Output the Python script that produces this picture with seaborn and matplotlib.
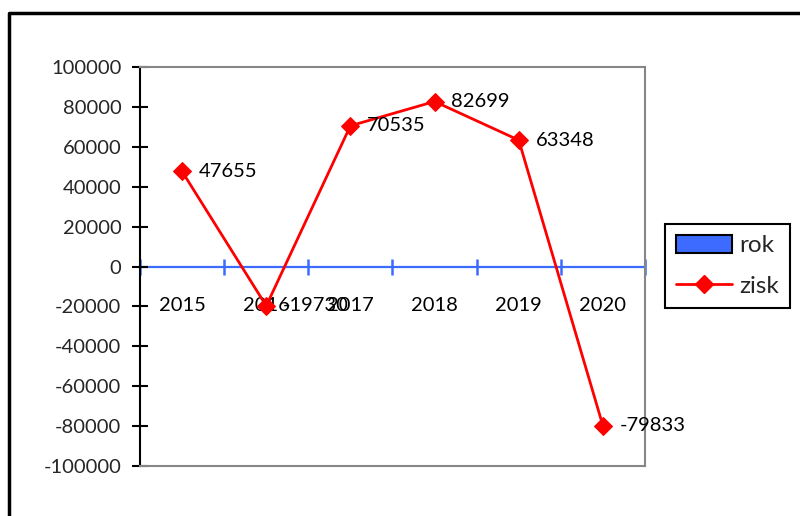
import numpy as np
import matplotlib
matplotlib.use("Agg")
import matplotlib.pyplot as plt
import seaborn as sns
from matplotlib.patches import Patch
from matplotlib.lines import Line2D
from matplotlib.ticker import NullFormatter

# data
rok = ["2015", "2016", "2017", "2018", "2019", "2020"]
zisk = [47655, -19730, 70535, 82699, 63348, -79833]
y_ticks = [-100000, -80000, -60000, -40000, -20000, 0, 20000, 40000, 60000, 80000, 100000]

blue = "#3d6bff"
red = "#ff0000"
gray = "#868686"

sns.set_theme(style="white")
plt.rcParams["font.family"] = ["Lato", "DejaVu Sans"]
plt.rcParams["axes.unicode_minus"] = False

fig = plt.figure(figsize=(8, 5.16), dpi=100)
ax = fig.add_axes([140 / 800, 1 - 466 / 516, 505 / 800, 399 / 516])

pos = np.arange(len(rok))
sns.lineplot(x=pos, y=zisk, ax=ax, color=red, lw=2, marker="D",
             markersize=9, markeredgecolor=red, zorder=5, legend=False)

# popisky hodnot
for i, v in enumerate(zisk):
    ax.annotate(str(v), (pos[i], v), xytext=(12, 0), textcoords="offset points",
                ha="left", va="center", fontsize=14.5, color="black", zorder=6,
                annotation_clip=False)

ax.set_xlim(-0.5, len(rok) - 0.5)
ax.set_ylim(-100000, 100000)
ax.set_yticks(y_ticks)
ax.set_xticks([])
ax.tick_params(axis="y", direction="inout", length=11, width=1.5, color="black",
               labelsize=14.5, pad=8, left=True)
for s in ["top", "right", "bottom"]:
    ax.spines[s].set_color(gray)
    ax.spines[s].set_linewidth(1.5)
ax.spines["left"].set_color("black")
ax.spines["left"].set_linewidth(1.5)
ax.set_xlabel("")
ax.set_ylabel("")

# kategorialni osa na nule
sec = ax.secondary_xaxis(0.5)
sec.set_alignment("bottom")
sec.spines["bottom"].set_color(blue)
sec.spines["bottom"].set_linewidth(1.6)
sec.set_xticks(np.arange(-0.5, len(rok), 1.0))
sec.xaxis.set_major_formatter(NullFormatter())
sec.set_xticks(pos, labels=rok, minor=True)
sec.tick_params(which="major", direction="inout", length=11, width=1.8, color=blue)
sec.tick_params(which="minor", length=0, pad=22, labelsize=14.5, labelcolor="black")

# ramecek grafu
fig.add_artist(Line2D([9 / 800, 9 / 800, 1.01], [-0.01, 1 - 12.5 / 516, 1 - 12.5 / 516],
                      transform=fig.transFigure, color="black", lw=2.5))

handles = [Patch(facecolor=blue, edgecolor="black", lw=1.5),
           Line2D([], [], color=red, lw=2, marker="D", markersize=9)]
leg = fig.legend(handles, ["rok", "zisk"], loc="center left",
                 bbox_to_anchor=(665 / 800, 1 - 266 / 516), frameon=True,
                 fancybox=False, edgecolor="black", framealpha=1, fontsize=17.5,
                 handlelength=2.3, handleheight=0.75, labelspacing=0.8,
                 borderpad=0.45, handletextpad=0.3, borderaxespad=0)
leg.get_frame().set_linewidth(1.5)

fig.savefig("out.png", dpi=100)
